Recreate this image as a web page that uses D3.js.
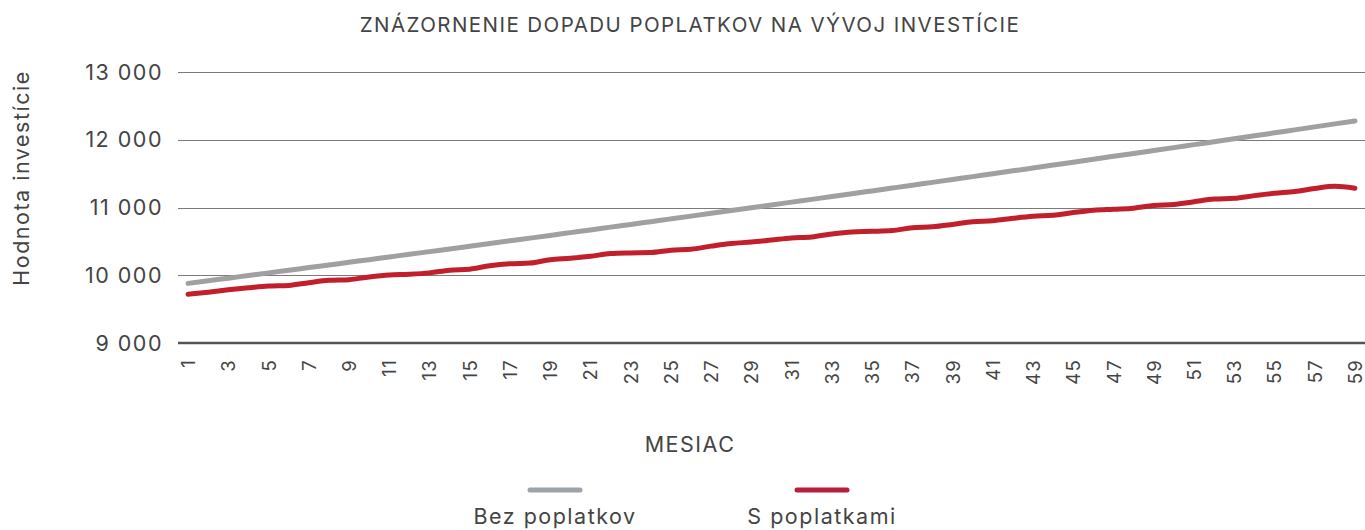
<!DOCTYPE html>
<html>
<head>
<meta charset="utf-8">
<script src="https://cdn.jsdelivr.net/npm/d3@7"></script>
<style>
  body { margin: 0; background: #fff; }
  svg text { font-family: Inter, "Noto Sans", sans-serif; fill: #444; letter-spacing: 0.07em; }
</style>
</head>
<body>
<div id="chart"></div>
<script>
// data
var months = [];
for (var m = 1; m <= 59; m++) months.push(m);

var bezPoplatkov = [
    9880, 9919, 9957, 9996, 10035, 10074, 10113, 10152, 10191, 10230,
    10270, 10309, 10349, 10388, 10428, 10468, 10508, 10548, 10588, 10629,
    10669, 10710, 10750, 10791, 10832, 10873, 10914, 10955, 10996, 11037,
    11079, 11120, 11162, 11203, 11245, 11287, 11329, 11371, 11413, 11456,
    11498, 11541, 11583, 11626, 11669, 11712, 11755, 11798, 11841, 11884,
    11928, 11971, 12015, 12058, 12102, 12146, 12190, 12234, 12278
];

var sPoplatkami = [
    9720, 9750, 9785, 9815, 9840, 9850, 9890, 9925, 9935, 9975,
    10005, 10015, 10035, 10075, 10090, 10140, 10170, 10180, 10230, 10250,
    10280, 10320, 10330, 10335, 10370, 10385, 10430, 10470, 10490, 10520,
    10550, 10565, 10610, 10640, 10648, 10660, 10700, 10715, 10750, 10790,
    10805, 10840, 10870, 10885, 10925, 10960, 10975, 10990, 11030, 11045,
    11085, 11125, 11135, 11175, 11210, 11235, 11280, 11312, 11285
];

var yTicks = [9000, 10000, 11000, 12000, 13000];
var seriesNames = ['Bez poplatkov', 'S poplatkami'];
var seriesColors = ['#a0a0a0', '#c11f2b'];
var legendColors = ['#9ea3aa', '#b51f3c'];

var width = 1365, height = 530;

var svg = d3.select('#chart')
    .append('svg')
    .attr('width', width)
    .attr('height', height);

var x = d3.scalePoint()
    .domain(months)
    .range([178, 1365])
    .padding(0.5);

var y = d3.scaleLinear()
    .domain([9000, 13000])
    .range([343, 72]);

// title
svg.append('text')
    .attr('x', 690)
    .attr('y', 32)
    .attr('text-anchor', 'middle')
    .attr('font-size', '20.5px')
    .text('ZNÁZORNENIE DOPADU POPLATKOV NA VÝVOJ INVESTÍCIE');

// gridlines
svg.append('g')
    .selectAll('line')
    .data(yTicks.slice(1))
    .enter()
    .append('line')
    .attr('x1', 178)
    .attr('x2', width)
    .attr('y1', function(d) { return Math.round(y(d)) + 0.5; })
    .attr('y2', function(d) { return Math.round(y(d)) + 0.5; })
    .attr('stroke', '#7a7a7a')
    .attr('stroke-width', 1);

// y labels
svg.append('g')
    .selectAll('text')
    .data(yTicks)
    .enter()
    .append('text')
    .attr('x', 163)
    .attr('y', function(d) { return y(d); })
    .attr('dy', '0.35em')
    .attr('text-anchor', 'end')
    .attr('font-size', '21.5px')
    .text(function(d) { return d3.format(',')(d).replace(',', ' '); });

// y title
svg.append('text')
    .attr('transform', 'translate(29, 178) rotate(-90)')
    .attr('text-anchor', 'middle')
    .attr('font-size', '21.5px')
    .text('Hodnota investície');

// x axis
var xAxis = d3.axisBottom(x)
    .tickValues(months.filter(function(d) { return d % 2 === 1; }))
    .tickSize(0);

var gx = svg.append('g')
    .attr('transform', 'translate(0,' + y(9000) + ')')
    .call(xAxis);

gx.select('.domain').remove();
gx.selectAll('text')
    .attr('transform', 'rotate(-90)')
    .attr('x', -16)
    .attr('y', 0)
    .attr('dy', '0.35em')
    .attr('text-anchor', 'end')
    .attr('font-size', '18.5px')
    .attr('font-family', 'Inter, "Noto Sans", sans-serif')
    .attr('fill', '#444');

svg.append('line')
    .attr('x1', 178)
    .attr('x2', width)
    .attr('y1', y(9000))
    .attr('y2', y(9000))
    .attr('stroke', '#555')
    .attr('stroke-width', 2.5);

// lines
var line = d3.line()
    .x(function(d, i) { return x(months[i]); })
    .y(function(d) { return y(d); })
    .curve(d3.curveMonotoneX);

[bezPoplatkov, sPoplatkami].forEach(function(s, i) {
    svg.append('path')
        .datum(s)
        .attr('fill', 'none')
        .attr('stroke', seriesColors[i])
        .attr('stroke-width', 5)
        .attr('stroke-linecap', 'round')
        .attr('stroke-linejoin', 'round')
        .attr('d', line);
});

// x title
svg.append('text')
    .attr('x', 690)
    .attr('y', 452)
    .attr('text-anchor', 'middle')
    .attr('font-size', '21.5px')
    .text('MESIAC');

// legend
var legendX = [555, 822];
var legend = svg.append('g')
    .selectAll('g')
    .data(seriesNames)
    .enter()
    .append('g')
    .attr('transform', function(d, i) { return 'translate(' + legendX[i] + ',0)'; });

legend.append('line')
    .attr('x1', -25)
    .attr('x2', 25)
    .attr('y1', 490)
    .attr('y2', 490)
    .attr('stroke', function(d, i) { return legendColors[i]; })
    .attr('stroke-width', 5)
    .attr('stroke-linecap', 'round');

legend.append('text')
    .attr('y', 524)
    .attr('text-anchor', 'middle')
    .attr('font-size', '21.5px')
    .text(function(d) { return d; });
</script>
</body>
</html>
